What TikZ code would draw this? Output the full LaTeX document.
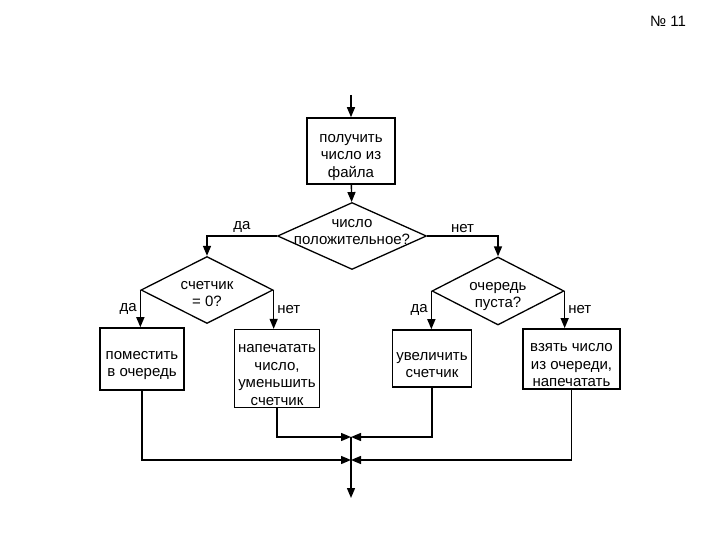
\documentclass[tikz,border=0pt]{standalone}
\usepackage{fontspec}
\setmainfont{Liberation Sans}
\usetikzlibrary{arrows.meta, shapes.geometric}
\newcommand{\dtext}[2][0pt]{\raisebox{#1}[0pt][0pt]{\makebox[0pt]{\begin{tabular}{@{}c@{}}#2\end{tabular}}}}
\newcommand{\fcstrut}{\rule{0pt}{21pt}}
\tikzset{
  fcbox/.style={
    rectangle, draw=black, line width=1.6pt, fill=white, align=center,
    inner sep=2pt, font=\fontsize{15}{17.5}\selectfont},
  fcdec/.style={
    diamond, draw=black, line width=1.3pt, fill=white, inner sep=0pt,
    font=\fontsize{15}{17.5}\selectfont},
  fcarr/.style={-{Triangle[length=10pt,width=8pt]}, line width=1.4pt},
  fclbl/.style={font=\fontsize{15}{17.5}\selectfont, inner sep=3pt},
}
\begin{document}
\begin{tikzpicture}[x=1pt, y=-1pt]
  \useasboundingbox (0,0) rectangle (720,540);
  \node[fclbl] (num) at (668,21) {№ 11};
  \coordinate (start) at (351,95);
  \node[fcbox, minimum width=88pt, minimum height=66pt] (get) at (351,151)
    {\fcstrut получить\\число из\\файла};
  \node[fcdec, minimum width=149pt, minimum height=67pt] (pos) at (352,236)
    {\dtext{число\\положительное?}};
  \node[fcdec, minimum width=132pt, minimum height=67pt] (cnt) at (207,290)
    {\dtext[-8pt]{счетчик\\= 0?}};
  \node[fcdec, minimum width=132pt, minimum height=68pt] (que) at (498,291)
    {\dtext[-8pt]{очередь\\пуста?}};
  \node[fcbox, minimum width=84pt, minimum height=62pt] (put) at (142,359)
    {\fcstrut поместить\\в очередь};
  \node[fcbox, minimum width=85pt, minimum height=77pt] (prn) at (277,368.5)
    {\fcstrut напечатать\\число,\\уменьшить\\счетчик};
  \node[fcbox, minimum width=79pt, minimum height=57pt] (inc) at (432,358.5)
    {\fcstrut увеличить\\счетчик};
  \node[fcbox, minimum width=97pt, minimum height=58pt] (take) at (571.5,359)
    {\fcstrut взять число\\из очереди,\\напечатать};
  \coordinate (j1) at (351,437);
  \coordinate (j2) at (351,460);
  \coordinate (stop) at (351,498);
  % main branch
  \draw[fcarr] (start) -- (get);
  \draw[fcarr] (get) -- (pos);
  \draw[fcarr] (pos.west) -- node[above, fclbl]{да} (pos.west -| cnt.north) -- (cnt.north);
  \draw[fcarr] (pos.east) -- node[above, fclbl]{нет} (pos.east -| que.north) -- (que.north);
  \draw[fcarr] (cnt.west) -- node[left, fclbl]{да} (cnt.west |- put.north);
  \draw[fcarr] (cnt.east) -- node[right, fclbl]{нет} (cnt.east |- prn.north);
  \draw[fcarr] (que.west) -- node[left, fclbl]{да} (que.west |- inc.north);
  \draw[fcarr] (que.east) -- node[right, fclbl]{нет} (que.east |- take.north);
  % merge
  \draw[fcarr] (prn.south) |- (j1);
  \draw[fcarr] (inc.south) |- (j1);
  \draw[fcarr] (put.south) |- (j2);
  \draw[fcarr] (take.south) |- (j2);
  \draw[fcarr] (j1) -- (stop);
\end{tikzpicture}
\end{document}
